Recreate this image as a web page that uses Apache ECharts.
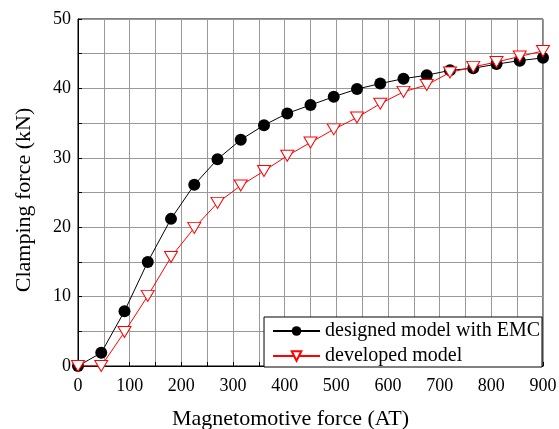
<!DOCTYPE html>
<html>
<head>
<meta charset="utf-8">
<script src="https://cdn.jsdelivr.net/npm/echarts@6/dist/echarts.min.js"></script>
<style>
  html, body { margin: 0; padding: 0; background: #fff; }
  #chart { width: 559px; height: 429px; }
</style>
</head>
<body>
<div id="chart"></div>
<script>
// magnetomotive force (AT)
const mmf = [0, 45, 90, 135, 180, 225, 270, 315, 360, 405, 450, 495, 540, 585, 630, 675, 720, 765, 810, 855, 900]
// clamping force (kN)
const designedEMC = [0, 1.9, 7.9, 15.0, 21.2, 26.1, 29.8, 32.6, 34.7, 36.4, 37.6, 38.8, 39.9, 40.7, 41.4, 41.9, 42.6, 42.9, 43.5, 44.0, 44.4]
const developed = [0, 0, 4.9, 10.1, 15.7, 19.9, 23.5, 26.0, 28.1, 30.3, 32.2, 34.1, 35.8, 37.8, 39.5, 40.5, 42.3, 43.1, 43.8, 44.6, 45.4]

const font = 'Liberation Serif, Times New Roman, serif'

const pairs = (xs, ys) => xs.map((x, i) => [x, ys[i]])

const chart = echarts.init(document.getElementById('chart'))

chart.setOption({
  backgroundColor: '#fff',
  animation: false,
  grid: {
    left: 78,
    right: 16,
    top: 19,
    bottom: 63,
    outerBoundsMode: 'none',
    containLabel: false,
    show: true,
    borderColor: '#000',
    borderWidth: 1
  },
  // y axis title, placed by hand (it sits a little below the plot centre)
  graphic: [
    {
      type: 'text',
      x: 24,
      y: 200,
      rotation: Math.PI / 2,
      style: {
        text: 'Clamping force (kN)',
        font: '22px ' + font,
        fill: '#000',
        textAlign: 'center',
        textVerticalAlign: 'middle'
      }
    }
  ],
  legend: {
    orient: 'vertical',
    right: 17,
    bottom: 62,
    backgroundColor: '#fff',
    borderColor: '#000',
    borderWidth: 1,
    padding: [4, 2, 1, 8],
    itemGap: 5,
    itemWidth: 47,
    itemHeight: 12,
    textStyle: { fontFamily: font, fontSize: 20, color: '#000', lineHeight: 20 },
    data: ['designed model with EMC', 'developed model']
  },
  xAxis: {
    type: 'value',
    min: 0,
    max: 900,
    interval: 50,
    name: 'Magnetomotive force (AT)',
    nameLocation: 'middle',
    nameGap: 42,
    nameTextStyle: { fontFamily: font, fontSize: 22, color: '#000', padding: [0, 40, 0, 0] },
    axisLine: { lineStyle: { color: '#000', width: 1 } },
    axisTick: { inside: true, length: 4, lineStyle: { color: '#000' } },
    axisLabel: {
      fontFamily: font,
      fontSize: 18,
      color: '#000',
      margin: 11,
      formatter: v => (v % 100 === 0 ? String(v) : '')
    },
    splitLine: { show: true, lineStyle: { color: '#999', width: 1 } }
  },
  yAxis: {
    type: 'value',
    min: 0,
    max: 50,
    interval: 5,
    axisLine: { show: true, lineStyle: { color: '#000', width: 1 } },
    axisTick: { show: true, inside: true, length: 4, lineStyle: { color: '#000' } },
    axisLabel: {
      fontFamily: font,
      fontSize: 18,
      color: '#000',
      margin: 7,
      formatter: v => (v % 10 === 0 ? String(v) : '')
    },
    splitLine: { show: true, lineStyle: { color: '#999', width: 1 } }
  },
  series: [
    {
      name: 'designed model with EMC',
      type: 'line',
      data: pairs(mmf, designedEMC),
      symbol: 'circle',
      symbolSize: 12,
      itemStyle: { color: '#000' },
      lineStyle: { color: '#000', width: 1 },
      z: 3
    },
    {
      name: 'developed model',
      type: 'line',
      data: pairs(mmf, developed),
      symbol: 'triangle',
      symbolRotate: 180,
      symbolSize: [13, 11],
      itemStyle: { color: '#fff', borderColor: '#ff0000', borderWidth: 1 },
      lineStyle: { color: '#ff0000', width: 1 },
      z: 4
    }
  ]
})
</script>
</body>
</html>
